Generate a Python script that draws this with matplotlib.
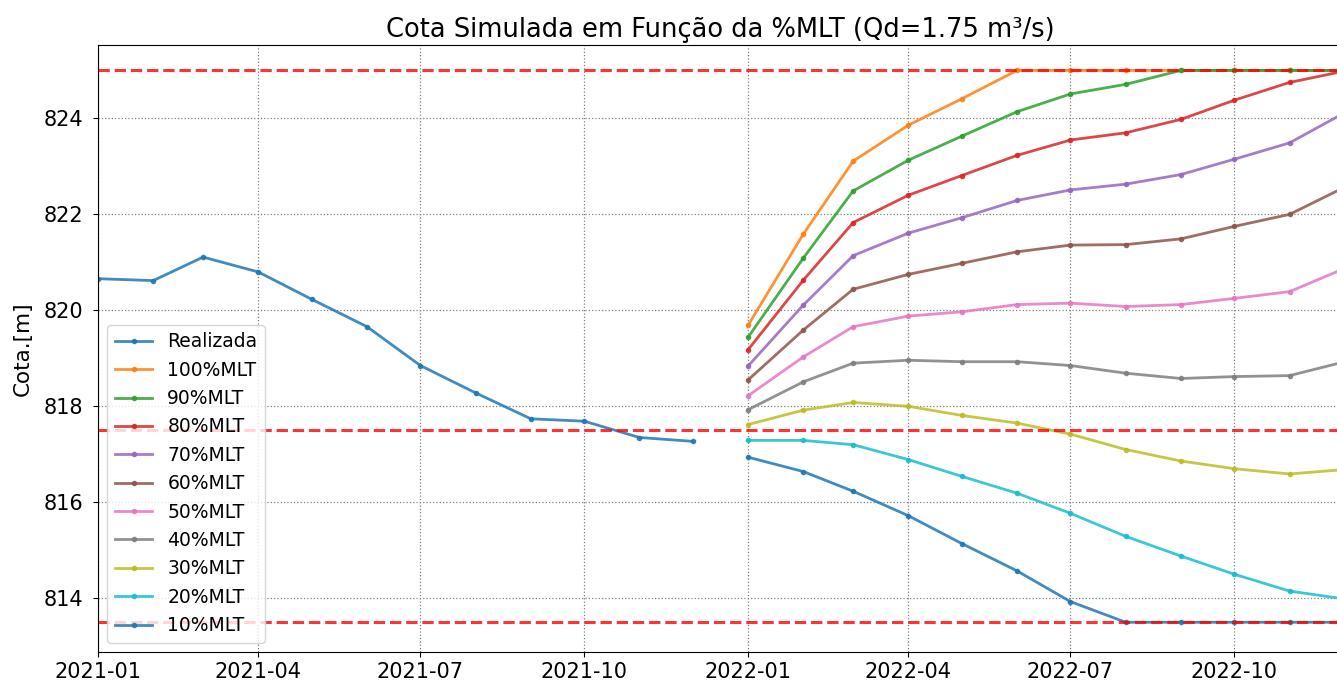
import matplotlib
matplotlib.use("Agg")
import matplotlib.pyplot as plt
import pandas as pd

real_dates = pd.date_range("2021-01-01", "2021-12-01", freq="MS")
sim_dates = pd.date_range("2022-01-01", "2022-12-01", freq="MS")

realizada = [820.66, 820.62, 821.11, 820.80, 820.23, 819.66, 818.85, 818.28,
             817.74, 817.69, 817.35, 817.27]

mlt100 = [819.69, 821.59, 823.11, 823.86, 824.41, 825.0, 825.0, 825.0, 825.0, 825.0, 825.0, 825.0]
mlt90 = [819.44, 821.09, 822.49, 823.13, 823.63, 824.14, 824.51, 824.71, 825.0, 825.0, 825.0, 825.0]
mlt80 = [819.18, 820.63, 821.83, 822.40, 822.81, 823.23, 823.55, 823.70, 823.98, 824.38, 824.75, 824.98]
mlt70 = [818.84, 820.11, 821.14, 821.61, 821.93, 822.29, 822.51, 822.63, 822.83, 823.15, 823.49, 824.10]
mlt60 = [818.55, 819.59, 820.44, 820.75, 820.98, 821.22, 821.36, 821.37, 821.49, 821.75, 822.00, 822.55]
mlt50 = [818.22, 819.03, 819.66, 819.88, 819.97, 820.12, 820.15, 820.08, 820.12, 820.25, 820.39, 820.86]
mlt40 = [817.93, 818.51, 818.90, 818.96, 818.93, 818.93, 818.85, 818.69, 818.58, 818.62, 818.64, 818.92]
mlt30 = [817.62, 817.92, 818.08, 818.00, 817.81, 817.65, 817.42, 817.10, 816.86, 816.70, 816.59, 816.68]
mlt20 = [817.29, 817.29, 817.20, 816.89, 816.54, 816.19, 815.77, 815.29, 814.88, 814.50, 814.15, 813.99]
mlt10 = [816.94, 816.64, 816.23, 815.72, 815.14, 814.57, 813.93, 813.50, 813.50, 813.50, 813.50, 813.50]

sim_labels = ["100%MLT", "90%MLT", "80%MLT", "70%MLT", "60%MLT", "50%MLT",
              "40%MLT", "30%MLT", "20%MLT", "10%MLT"]
sim_series = [mlt100, mlt90, mlt80, mlt70, mlt60, mlt50, mlt40, mlt30, mlt20, mlt10]

limits = [825.0, 817.5, 813.5]

fig = plt.figure(figsize=(13.37, 6.86), dpi=100)
ax = fig.add_axes([98 / 1337, 1 - 652 / 686, (1343 - 98) / 1337, (652 - 45) / 686])

ax.plot(real_dates, realizada, marker=".", lw=2, alpha=0.85, label="Realizada")
for lab, vals in zip(sim_labels, sim_series):
    ax.plot(sim_dates, vals, marker=".", lw=2, alpha=0.85, label=lab)

for v in limits:
    ax.axhline(v, color="red", ls="--", lw=2.2, alpha=0.8)

ax.set_xlim(real_dates[0], sim_dates[-1])
ax.set_ylim(812.88, 825.53)
ax.grid(True, ls=":", color="gray", lw=0.9)
ax.set_ylabel("Cota.[m]", fontsize=15.5, labelpad=8)
ax.set_title("Cota Simulada em Função da %MLT (Qd=1.75 m³/s)", fontsize=18.5)
ax.tick_params(labelsize=15)
ax.tick_params(axis="y", pad=7)
ax.legend(loc="lower left", fontsize=13.5, labelspacing=0.5)

fig.savefig("out.png", dpi=100)
